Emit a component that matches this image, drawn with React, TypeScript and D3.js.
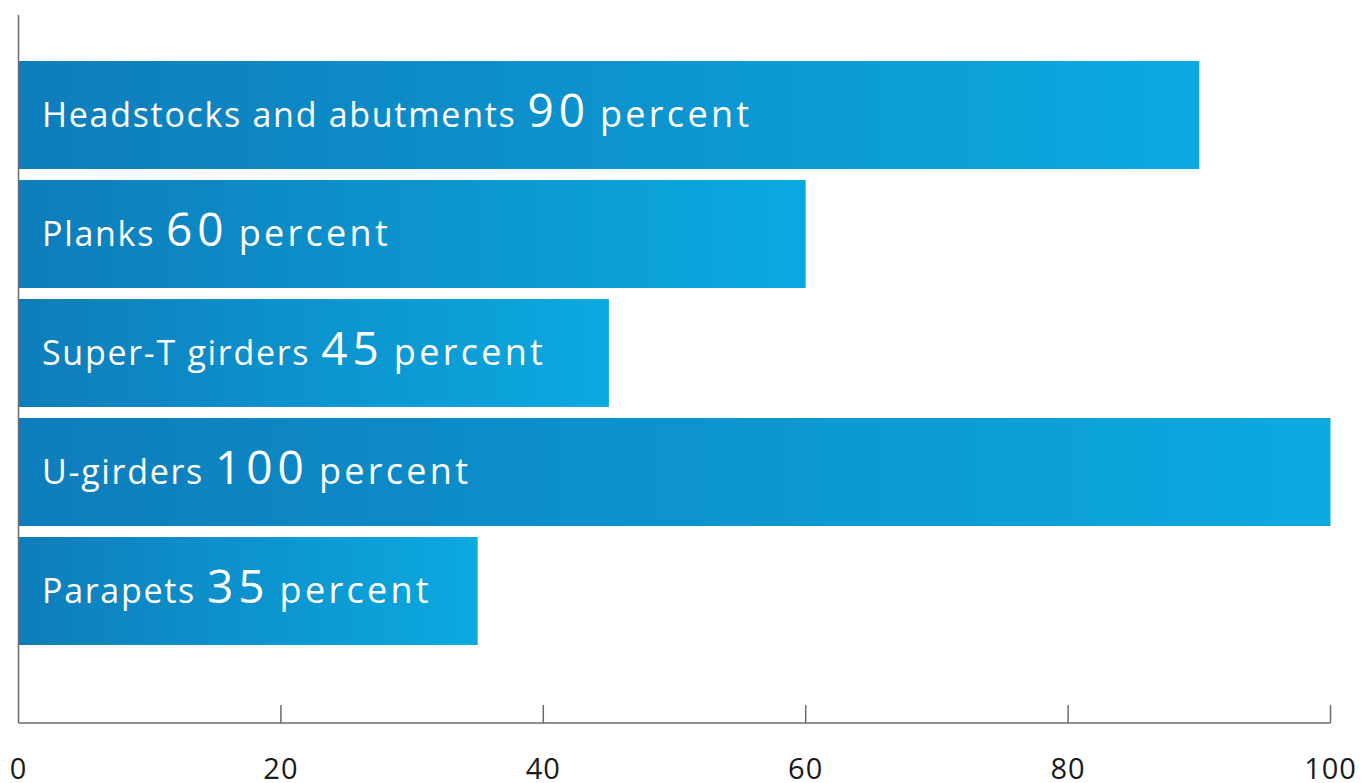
import React, { useEffect, useRef } from 'react';
import * as d3 from 'd3';

const categories = ['Headstocks and abutments', 'Planks', 'Super-T girders', 'U-girders', 'Parapets'];
const values = [90, 60, 45, 100, 35];
const tickValues = [0, 20, 40, 60, 80, 100];

const App = () => {
  const svgRef = useRef<SVGSVGElement>(null);

  useEffect(() => {
    const width = 1370;
    const height = 783;
    const font = "'Open Sans', sans-serif";

    const svg = d3.select(svgRef.current);
    svg.selectAll('*').remove();
    svg.attr('viewBox', [0, 0, width, height]);

    // Scales
    const x = d3.scaleLinear().domain([0, 100]).range([18.5, 1330.5]);
    const y = d3.scaleBand()
      .domain(categories)
      .range([55.5, 650.5])
      .paddingInner(0.0924)
      .paddingOuter(0.0462);

    // Gradient for the bars
    const grad = svg.append('defs').append('linearGradient')
      .attr('id', 'barGrad')
      .attr('x1', '0%').attr('x2', '100%')
      .attr('y1', '0%').attr('y2', '0%');
    grad.append('stop').attr('offset', '0%').attr('stop-color', '#0e7dbb');
    grad.append('stop').attr('offset', '100%').attr('stop-color', '#0ba9e0');

    const rows = categories.map((c, i) => ({ name: c, value: values[i] }));

    // Bars
    svg.selectAll('.bar')
      .data(rows)
      .join('rect')
      .attr('class', 'bar')
      .attr('x', x(0))
      .attr('y', d => y(d.name)!)
      .attr('width', d => x(d.value) - x(0))
      .attr('height', y.bandwidth())
      .attr('fill', 'url(#barGrad)');

    // Labels inside bars
    const labels = svg.selectAll('.label')
      .data(rows)
      .join('text')
      .attr('class', 'label')
      .attr('x', x(0) + 23.5)
      .attr('y', d => y(d.name)! + y.bandwidth() / 2 + 12)
      .attr('fill', '#ffffff')
      .style('font-family', font)
      .style('font-weight', 500);

    labels.append('tspan')
      .style('font-size', '34px')
      .style('letter-spacing', '1.7px')
      .text(d => d.name);
    labels.append('tspan')
      .attr('dx', 11)
      .style('font-size', '46px')
      .style('letter-spacing', '5px')
      .text(d => d.value);
    labels.append('tspan')
      .attr('dx', 10)
      .style('font-size', '36px')
      .style('letter-spacing', '3.3px')
      .text('percent');

    // Axes lines
    const axisColor = '#6b6b6b';
    svg.append('line')
      .attr('x1', x(0)).attr('x2', x(0))
      .attr('y1', 15).attr('y2', 723)
      .attr('stroke', axisColor).attr('stroke-width', 1.5);

    svg.append('line')
      .attr('x1', x(0)).attr('x2', x(100))
      .attr('y1', 723).attr('y2', 723)
      .attr('stroke', axisColor).attr('stroke-width', 1.5);

    svg.append('g')
      .selectAll('line')
      .data(tickValues.filter(d => d > 0))
      .join('line')
      .attr('x1', d => x(d)).attr('x2', d => x(d))
      .attr('y1', 705).attr('y2', 723)
      .attr('stroke', axisColor).attr('stroke-width', 1.5);

    svg.append('g')
      .selectAll('text')
      .data(tickValues)
      .join('text')
      .attr('x', d => x(d))
      .attr('y', 779)
      .attr('text-anchor', 'middle')
      .attr('fill', '#1a1a1a')
      .style('font-family', font)
      .style('font-size', '29px')
      .style('letter-spacing', '1px')
      .text(d => d);
  }, []);

  return (
    <div style={{ position: 'absolute', left: 0, top: 0, width: 1370, height: 783, background: '#fff' }}>
      <svg ref={svgRef} width={1370} height={783} style={{ display: 'block' }}></svg>
    </div>
  );
};

export default App;
